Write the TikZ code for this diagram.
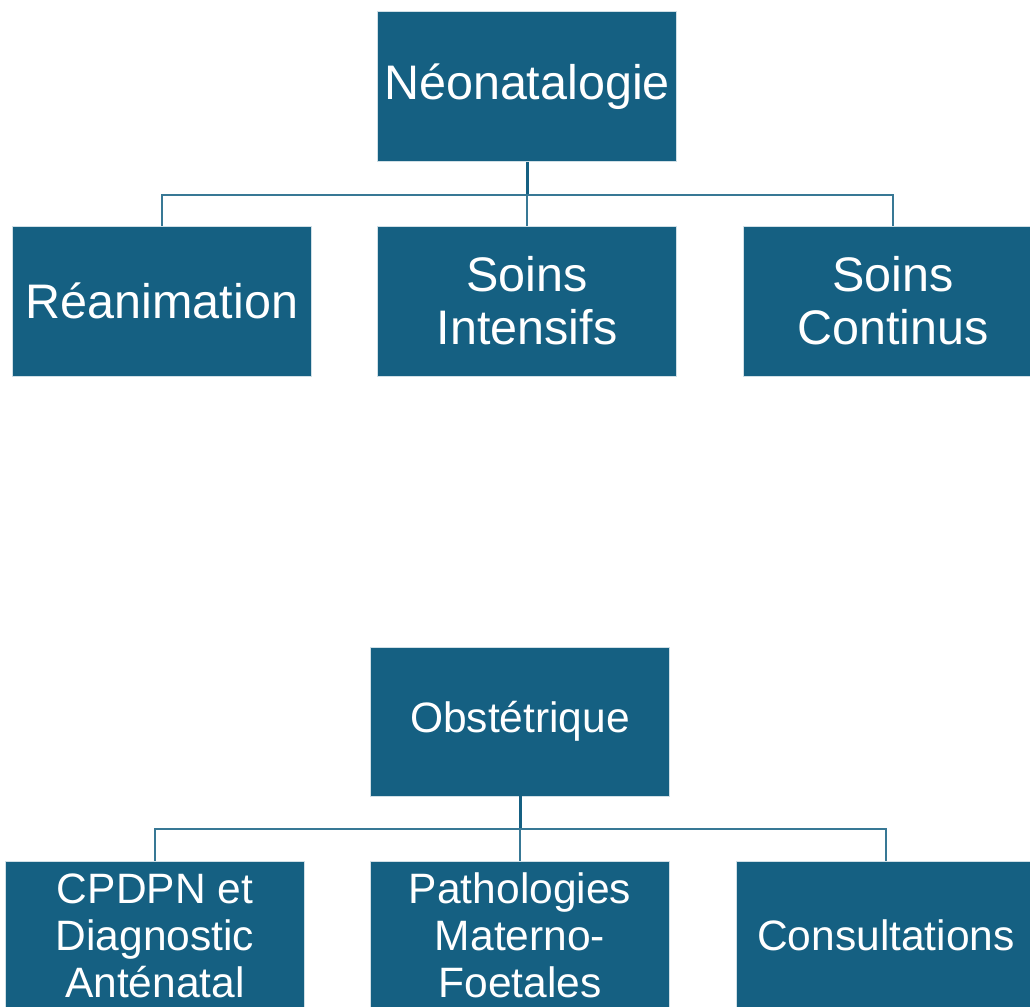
\documentclass[tikz,border=0pt]{standalone}
\usepackage{fontspec}
\setmainfont{Liberation Sans}
\definecolor{boxblue}{HTML}{156082}
\begin{document}
\begin{tikzpicture}[x=1pt,y=-1pt,
  box/.style={rectangle, fill=boxblue, draw=white!80!boxblue, line width=0.6pt, text=white, inner sep=0pt, align=center},
  topbox/.style={box, minimum width=299pt, minimum height=150pt, font=\fontsize{48.5}{53}\selectfont},
  botbox/.style={box, minimum width=299pt, minimum height=149pt, font=\fontsize{42.5}{47}\selectfont},
  conn/.style={draw=boxblue!85!white, line width=2pt},
  stub/.style={draw=boxblue, line width=3pt}]
\useasboundingbox (0,0) rectangle (1030,1006);
\clip (0,0) rectangle (1030,1006);
% top tree
\node[topbox] (neo) at (527,86.5) {Néonatalogie};
\node[topbox] (rea) at (162,301) {Réanimation};
\node[topbox] (si) at (527,301) {Soins\\Intensifs};
\node[topbox] (sc) at (893,301) {Soins\\Continus};
\coordinate (tj) at (527,195);
\draw[stub] (neo.south) -- (tj);
\draw[conn] (tj) -| (rea.north);
\draw[conn] (tj) -- (si.north);
\draw[conn] (tj) -| (sc.north);
% bottom tree
\node[botbox] (obs) at (520,721.5) {Obstétrique};
\node[botbox] (cp) at (155,935.5) {CPDPN et\\Diagnostic\\Anténatal};
\node[botbox] (pa) at (520,935.5) {Pathologies\\Materno-\\Foetales};
\node[botbox] (co) at (886,935.5) {Consultations};
\coordinate (bj) at (520,829);
\draw[stub] (obs.south) -- (bj);
\draw[conn] (bj) -| (cp.north);
\draw[conn] (bj) -- (pa.north);
\draw[conn] (bj) -| (co.north);
\end{tikzpicture}
\end{document}
